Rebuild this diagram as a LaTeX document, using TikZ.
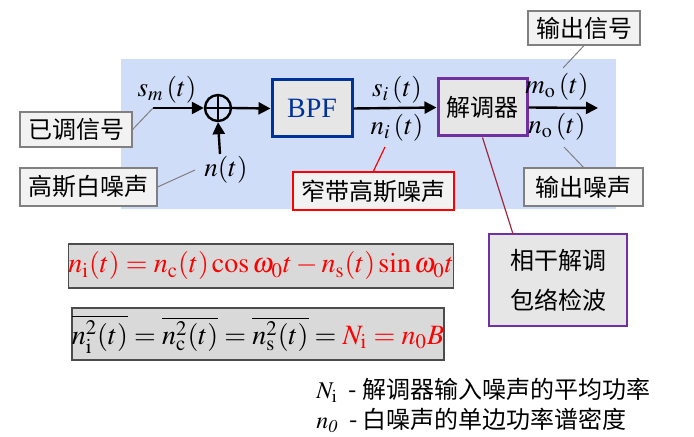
\documentclass[tikz,border=0pt]{standalone}
\usepackage{mathptmx}
\usepackage{fontspec}
\setmainfont{Liberation Serif}
\newfontfamily\cjk{Noto Sans CJK SC}
\usetikzlibrary{arrows.meta}
\definecolor{bgblue}{RGB}{208,221,249}
\definecolor{tagfill}{RGB}{242,242,242}
\definecolor{boxfill}{RGB}{230,230,230}
\definecolor{eqfill}{RGB}{217,217,217}
\definecolor{bpfblue}{RGB}{0,51,153}
\definecolor{dempurple}{RGB}{112,48,160}
\definecolor{leadred}{RGB}{160,40,60}

\begin{document}
\begin{tikzpicture}[x=0.5pt, y=-0.5pt,
    cn/.style={font=\cjk\fontsize{12}{14}\selectfont},
    mth/.style={font=\fontsize{13.5}{15}\selectfont, inner sep=1pt},
    tag/.style={cn, draw=gray, fill=tagfill, line width=0.6pt, inner sep=0pt},
    blk/.style={fill=boxfill, line width=1.5pt, inner sep=0pt},
    eq/.style={draw=black!70, fill=eqfill, line width=0.7pt, inner sep=0pt,
        font=\fontsize{14}{16}\selectfont},
    sig/.style={line width=1.2pt, -{Triangle[length=6pt,width=6pt]}},
    lead/.style={gray, line width=0.5pt}]
    \useasboundingbox (0,0) rectangle (694,437);

    % background
    \fill[bgblue] (121,59) rectangle (616,209);

    % blocks
    \node[circle, draw, line width=1.2pt, minimum size=13pt, inner sep=0pt] (add) at (218,108) {};
    \draw[line width=1.2pt] (add.north) -- (add.south) (add.west) -- (add.east);
    \node[blk, draw=bpfblue, text=bpfblue, font=\fontsize{14}{16}\selectfont,
        minimum width=40pt, minimum height=28.5pt] (bpf) at (312,108.5) {BPF};
    \node[blk, draw=dempurple, cn, minimum width=44.5pt, minimum height=28.5pt] (dem) at (482.5,107.5) {解调器};

    % signal labels
    \node[mth] (sm) at (167,90) {$s_{m}\,(t)$};
    \node[mth] (nt) at (226,170) {$n(t)$};
    \node[mth] (si) at (397,90) {$s_{i}\,(t)$};
    \node[mth] (ni) at (397,128) {$n_{i}\,(t)$};
    \node[mth] (mo) at (557,87) {$m_{\mathrm{o}}\,(t)$};
    \node[mth] (no) at (557,127) {$n_{\mathrm{o}}\,(t)$};

    % signal path
    \coordinate (in) at (153,108);
    \coordinate (nin) at (220,154);
    \coordinate (out) at (598,108);
    \draw[sig] (in) -- (add.west);
    \draw[sig] (nin) -- (add.south);
    \draw[sig] (add.east) -- (bpf.west);
    \draw[sig] (bpf.east) -- (dem.west);
    \draw[sig] (dem.east) -- (out);

    % tags
    \node[tag, minimum width=56pt, minimum height=17.5pt] (yt) at (76,129.5) {已调信号};
    \node[tag, minimum width=68.5pt, minimum height=19pt] (gs) at (88.5,187) {高斯白噪声};
    \node[tag, draw=red, line width=1pt, minimum width=80.5pt, minimum height=19pt] (nb) at (373.5,191) {窄带高斯噪声};
    \node[tag, minimum width=56pt, minimum height=17pt] (os) at (584,28) {输出信号};
    \node[tag, minimum width=59.5pt, minimum height=19pt] (on) at (583.5,187) {输出噪声};
    \node[blk, draw=dempurple, line width=1.2pt, cn, align=center, font=\cjk\fontsize{12}{20}\selectfont,
        minimum width=69pt, minimum height=46pt] (coh) at (558,280) {相干解调\\包络检波};

    % leaders
    \coordinate (gsend) at (195,170);
    \coordinate (nbend) at (385,147);
    \coordinate (osend) at (563,68);
    \coordinate (onend) at (564,147);
    \coordinate (cohend) at (513,234);
    \draw[lead] (yt.east) -- (in);
    \draw[lead] (gs.east) -- (gsend);
    \draw[red, line width=0.6pt] (nb.north) -- (nbend);
    \draw[lead] (os.south) -- (osend);
    \draw[lead] (on.north) -- (onend);
    \draw[leadred, line width=0.6pt] (dem.south) -- (cohend);

    % formulas
    \node[eq, text=red, minimum width=190pt, minimum height=22pt] (f1) at (261,266)
        {$n_{\mathrm{i}}(t)=n_{\mathrm{c}}(t)\cos\omega_0 t-n_{\mathrm{s}}(t)\sin\omega_0 t$};
    \node[eq, minimum width=186pt, minimum height=26pt] (f2) at (258,334)
        {$\overline{n_{\mathrm{i}}^2(t)}=\overline{n_{\mathrm{c}}^2(t)}=\overline{n_{\mathrm{s}}^2(t)}=\textcolor{red}{N_{\mathrm{i}}=n_0B}$};

    % legend
    \node[cn, anchor=west, inner sep=0pt] (leg1) at (316,390) {$N_{\mathrm{i}}$\ \ - 解调器输入噪声的平均功率};
    \node[cn, anchor=west, inner sep=0pt] (leg2) at (316,420) {$n_{\mathit{0}}$\ \ - 白噪声的单边功率谱密度};
\end{tikzpicture}
\end{document}
